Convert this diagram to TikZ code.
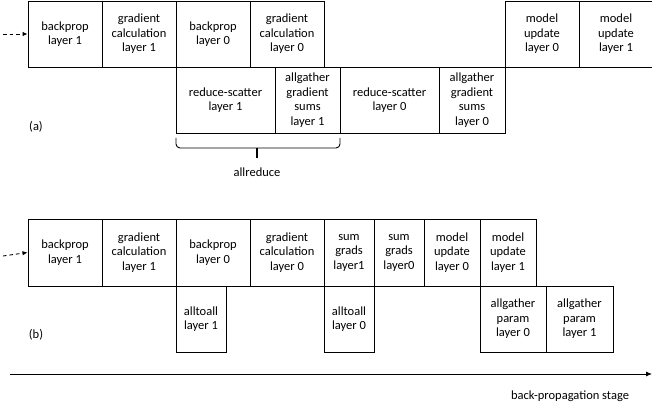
\documentclass[tikz,border=0pt]{standalone}
\usepackage{fontspec}
\setmainfont{Carlito}
\usetikzlibrary{arrows.meta,calc}
\begin{document}
\begin{tikzpicture}[x=1pt,y=-1pt,
  box/.style={draw=black,line width=0.9pt,align=center,inner sep=0pt,
    font=\fontsize{12.5}{14.5}\selectfont},
  lbl/.style={inner sep=0pt,font=\fontsize{12.5}{14.5}\selectfont},
  lead/.style={line width=0.9pt,dash pattern=on 3.5pt off 3pt,-{Latex[length=5pt,width=4.5pt]}}]
\useasboundingbox (0,0) rectangle (652,406);
% ---- (a) ----
\node[box,minimum width=74pt,minimum height=66pt] (a1) at (65,34) {backprop\\layer 1};
\node[box,minimum width=74pt,minimum height=66pt] (a2) at (139,34) {gradient\\calculation\\layer 1};
\node[box,minimum width=74pt,minimum height=66pt] (a3) at (213,34) {backprop\\layer 0};
\node[box,minimum width=74pt,minimum height=66pt] (a4) at (287,34) {gradient\\calculation\\layer 0};
\node[box,minimum width=74pt,minimum height=66pt] (a5) at (542,34) {model\\update\\layer 0};
\node[box,minimum width=74pt,minimum height=66pt] (a6) at (616,34) {model\\update\\layer 1};
\node[box,minimum width=99pt,minimum height=66pt] (r1) at (225.5,100) {reduce-scatter\\layer 1};
\node[box,minimum width=65pt,minimum height=66pt] (g1) at (307.5,100) {allgather\\gradient\\sums\\layer 1};
\node[box,minimum width=99pt,minimum height=66pt] (r0) at (389.5,100) {reduce-scatter\\layer 0};
\node[box,minimum width=66pt,minimum height=66pt] (g0) at (472,100) {allgather\\gradient\\sums\\layer 0};
\node[lbl] (la) at (36,127) {(a)};
\coordinate (sa) at (3,34);
\draw[lead] (sa) -- (a1.west);
% brace
\coordinate (bl) at (176,138);
\coordinate (br) at (340,138);
\draw[line width=0.9pt,rounded corners=4pt] (bl) -- ++(0,10) -- ($(br)+(0,10)$) -- (br);
\coordinate (bm) at (257,148);
\draw[line width=1.8pt] (bm) -- ++(0,10);
\node[lbl] (ar) at (257,172) {allreduce};
% ---- (b) ----
\node[box,minimum width=74pt,minimum height=67pt] (b1) at (65,252.5) {backprop\\layer 1};
\node[box,minimum width=74pt,minimum height=67pt] (b2) at (139,252.5) {gradient\\calculation\\layer 1};
\node[box,minimum width=74pt,minimum height=67pt] (b3) at (213,252.5) {backprop\\layer 0};
\node[box,minimum width=74pt,minimum height=67pt] (b4) at (287,252.5) {gradient\\calculation\\layer 0};
\node[box,minimum width=50pt,minimum height=67pt] (s1) at (349,252.5) {sum\\grads\\layer1};
\node[box,minimum width=50pt,minimum height=67pt] (s0) at (399,252.5) {sum\\grads\\layer0};
\node[box,minimum width=56pt,minimum height=67pt] (m0) at (452,252.5) {model\\update\\layer 0};
\node[box,minimum width=56pt,minimum height=67pt] (m1) at (508,252.5) {model\\update\\layer 1};
\node[box,minimum width=50pt,minimum height=66pt] (t1) at (201,319) {alltoall\\layer 1};
\node[box,minimum width=50pt,minimum height=66pt] (t0) at (349,319) {alltoall\\layer 0};
\node[box,minimum width=66pt,minimum height=66pt] (p0) at (513,319) {allgather\\param\\layer 0};
\node[box,minimum width=67pt,minimum height=66pt] (p1) at (579.5,319) {allgather\\param\\layer 1};
\node[lbl] (lb) at (36,335) {(b)};
\coordinate (sb) at (3,256);
\draw[lead] (sb) -- (b1.west);
% axis
\coordinate (ax0) at (10,374);
\coordinate (ax1) at (652,374);
\draw[line width=0.9pt,-{Latex[length=6pt,width=5pt]}] (ax0) -- (ax1);
\node[lbl] (ax) at (570,396) {back-propagation stage};
\end{tikzpicture}
\end{document}
